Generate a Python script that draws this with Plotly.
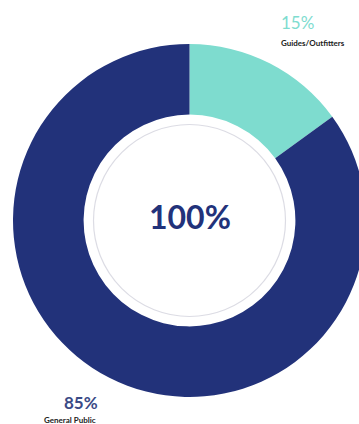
import plotly.graph_objects as go

# Audience split
categories = ["Guides/Outfitters", "General Public"]
values = [15, 85]
total_label = "100%"

NAVY = "#22327a"
CYAN = "#7edccf"

W, H = 380, 424           # canvas a little wider than the view so the ring runs off the right edge
CX, CY, R = 189.5, 220.5, 176.5


def px(x):
    return x / W


def py(y):
    return 1 - y / H


fig = go.Figure(go.Pie(
    labels=categories,
    values=values,
    hole=0.6,
    sort=False,
    direction="clockwise",
    rotation=0,
    marker=dict(colors=[CYAN, NAVY], line=dict(width=0)),
    textinfo="none",
    hoverinfo="none",
    showlegend=False,
    domain=dict(x=[px(CX - R), px(CX + R)], y=[py(CY + R), py(CY - R)]),
))

# thin grey ring inside the hole
RING = 96
fig.add_shape(type="circle", xref="paper", yref="paper",
              x0=px(CX - RING), x1=px(CX + RING), y0=py(CY + RING), y1=py(CY - RING),
              line=dict(color="#dcdce4", width=1.2))

ann = []
ann.append(dict(x=px(190), y=py(216.5), text=f"<b>{total_label}</b>",
                font=dict(family="Lato", size=32, color=NAVY)))
pct = [f"{v}%" for v in values]
ann.append(dict(x=px(297), y=py(22), text=pct[0],
                font=dict(family="Lato", size=17, color=CYAN)))
ann.append(dict(x=px(313), y=py(43), text=f"<b>{categories[0]}</b>",
                font=dict(family="Lato", size=8, color="#222222")))
ann.append(dict(x=px(81), y=py(402), text=f"<b>{pct[1]}</b>",
                font=dict(family="Lato", size=17, color="#3a4a86")))
ann.append(dict(x=px(70), y=py(420), text=f"<b>{categories[1]}</b>",
                font=dict(family="Lato", size=8, color="#222222")))
for a in ann:
    a.update(xref="paper", yref="paper", showarrow=False, xanchor="center", yanchor="middle")

fig.update_layout(
    width=W, height=H,
    margin=dict(l=0, r=0, t=0, b=0),
    paper_bgcolor="white", plot_bgcolor="white",
    annotations=ann,
)

fig.write_html("out.html", config={"displayModeBar": False},
               post_script="document.documentElement.style.overflow='hidden';document.body.style.overflow='hidden';")
